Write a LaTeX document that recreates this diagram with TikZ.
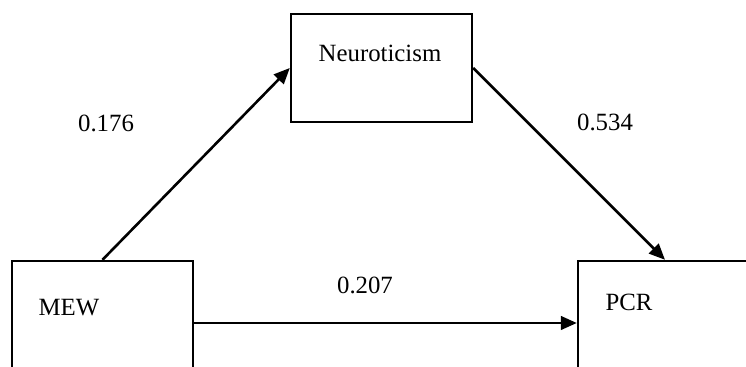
\documentclass[tikz,border=0pt]{standalone}
\usepackage{fontspec}
\setmainfont{Liberation Serif}
\usetikzlibrary{arrows.meta}

\begin{document}
\begin{tikzpicture}[x=0.5pt,y=-0.5pt,>={Triangle[length=8pt,width=6.8pt]},
  every node/.style={font=\fontsize{12.4}{15}\selectfont},
  box/.style={draw,line width=1.2pt,inner sep=0pt}]
  \useasboundingbox (0,0) rectangle (746,367);
  \clip (0,0) rectangle (746,367);
  % boxes (the lower two run off the page)
  \node[box,minimum width=90.5pt,minimum height=54pt] (neur) at (381.5,68) {};
  \node[box,minimum width=90.5pt,minimum height=62pt] (mew) at (102.5,323) {};
  \node[box,minimum width=87pt,minimum height=62pt] (pcr) at (665,323) {};
  \node (neurtxt) at (380,53) {Neuroticism};
  \node (mewtxt) at (69,308) {MEW};
  \node (pcrtxt) at (629,302) {PCR};
  % paths
  \draw[line width=1.3pt,->] (mew.north) -- (neur.west);
  \draw[line width=1.3pt,->] (neur.east) -- (pcr.north);
  \draw[line width=1.3pt,->] (mew.east) -- (pcr.west);
  \node (a) at (106,123) {0.176};
  \node (b) at (605,122) {0.534};
  \node (c) at (365,285) {0.207};
\end{tikzpicture}
\end{document}
